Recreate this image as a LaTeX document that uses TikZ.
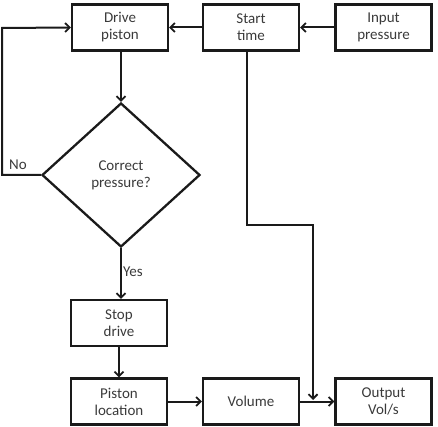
\documentclass[tikz,border=0pt]{standalone}
\usepackage{fontspec}
\setmainfont{Carlito}
\usetikzlibrary{arrows.meta,shapes.geometric,calc}
\definecolor{txt}{HTML}{3A3A3A}
\definecolor{ln}{HTML}{1A1A1A}
\begin{document}
\begin{tikzpicture}[x=1pt,y=-1pt,
  every node/.style={font=\fontsize{15}{17}\selectfont, text=txt},
  box/.style={draw=ln, line width=2.3pt, minimum width=96pt, minimum height=46pt, inner sep=0pt, align=center},
  dec/.style={draw=ln, line width=2.3pt, shape=diamond, minimum width=158pt, minimum height=144pt, inner sep=0pt, align=center},
  conn/.style={draw=ln, line width=2pt, -{Straight Barb[length=4.5pt,width=9pt,line width=1.8pt]}},
  lbl/.style={inner sep=0pt}]
\useasboundingbox (0,0) rectangle (438,427);
\node[box] (drive) at (120,27.5) {Drive\\piston};
\node[box] (start) at (251,27.5) {Start\\time};
\node[box] (input) at (383.5,27.5) {Input\\pressure};
\node[dec] (dec) at (121,175) {Correct\\pressure?};
\node[box] (stop) at (119,323) {Stop\\drive};
\node[box] (piston) at (119,401.5) {Piston\\location};
\node[box] (volume) at (251,401.5) {Volume};
\node[box] (output) at (383.5,401.5) {Output\\Vol/s};
\coordinate (nl) at (2,175);
\coordinate (tl) at (2,28);
\coordinate (s1) at (247,50.5);
\coordinate (s2) at (247,225);
\coordinate (s3) at (313,225);
\coordinate (s4) at (313,400);
\draw[conn] (input.west) -- (start.east);
\draw[conn] (start.west) -- (drive.east);
\draw[conn] (drive.south -| dec.north) -- (dec.north);
\draw[conn] (dec.west) -- (nl) -- (tl) -- (drive.west);
\node[lbl] (no) at (18,165) {No};
\draw[conn] (dec.south) -- (dec.south |- stop.north);
\node[lbl] (yes) at (133,272) {Yes};
\draw[conn] (stop.south) -- (piston.north);
\draw[conn] (piston.east) -- (volume.west);
\draw[conn] (volume.east) -- (output.west);
\draw[conn] (s1) -- (s2) -- (s3) -- (s4);
\end{tikzpicture}
\end{document}
